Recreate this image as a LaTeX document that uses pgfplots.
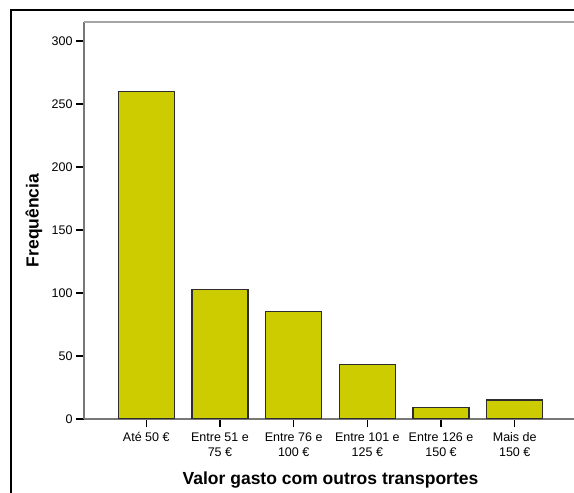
\documentclass[border=0pt]{standalone}
\usepackage{fontspec}
\setmainfont{Liberation Sans}
\usepackage{pgfplots}
\pgfplotsset{compat=1.18}
\definecolor{barfill}{RGB}{204,204,0}
\definecolor{edge}{RGB}{45,45,45}
\definecolor{axgray}{RGB}{120,120,120}
\definecolor{topgray}{RGB}{165,165,165}
\begin{document}
\begin{tikzpicture}
\useasboundingbox (0,0) rectangle (574pt,493pt);
\clip (0,0) rectangle (574pt,493pt);
\fill[white] (0,0) rectangle (574pt,493pt);
\draw[black, line width=2pt] (11pt,-20pt) -- (11pt,483pt) -- (620pt,483pt);
\begin{axis}[
  at={(84pt,74pt)}, anchor=south west,
  scale only axis, width=493pt, height=397pt,
  xmin=-0.845, xmax=5.845, ymin=0, ymax=315,
  axis x line*=bottom, axis y line*=left,
  axis line style={-, line width=2pt, axgray},
  ytick={0,50,...,300}, xtick={0,...,5},
  xticklabels={{Até 50 €},{Entre 51 e\\75 €},{Entre 76 e\\100 €},{Entre 101 e\\125 €},{Entre 126 e\\150 €},{Mais de\\150 €}},
  tick align=outside, major tick length=8pt,
  tick style={black, line width=1.3pt},
  /pgf/number format/assume math mode=true,
  ticklabel style={font=\fontsize{12.5}{15}\selectfont},
  xticklabel style={align=center, yshift=-2pt},
  ybar, bar width=56pt,
  ylabel={Frequência}, xlabel={Valor gasto com outros transportes},
  ylabel style={font=\bfseries\fontsize{17.5}{20}\selectfont, at={(axis description cs:-0.1014,0.5)}, anchor=center},
  xlabel style={font=\bfseries\fontsize{17.5}{20}\selectfont, at={(axis description cs:0.5,-0.1662)}, anchor=base},
]
\addplot[fill=barfill, draw=edge, line width=1.2pt] coordinates {(0,260) (1,103) (2,85) (3,43) (4,9) (5,15)};
\draw[topgray, line width=2pt] (rel axis cs:0,1) -- (rel axis cs:1,1);
\end{axis}
\end{tikzpicture}
\end{document}
